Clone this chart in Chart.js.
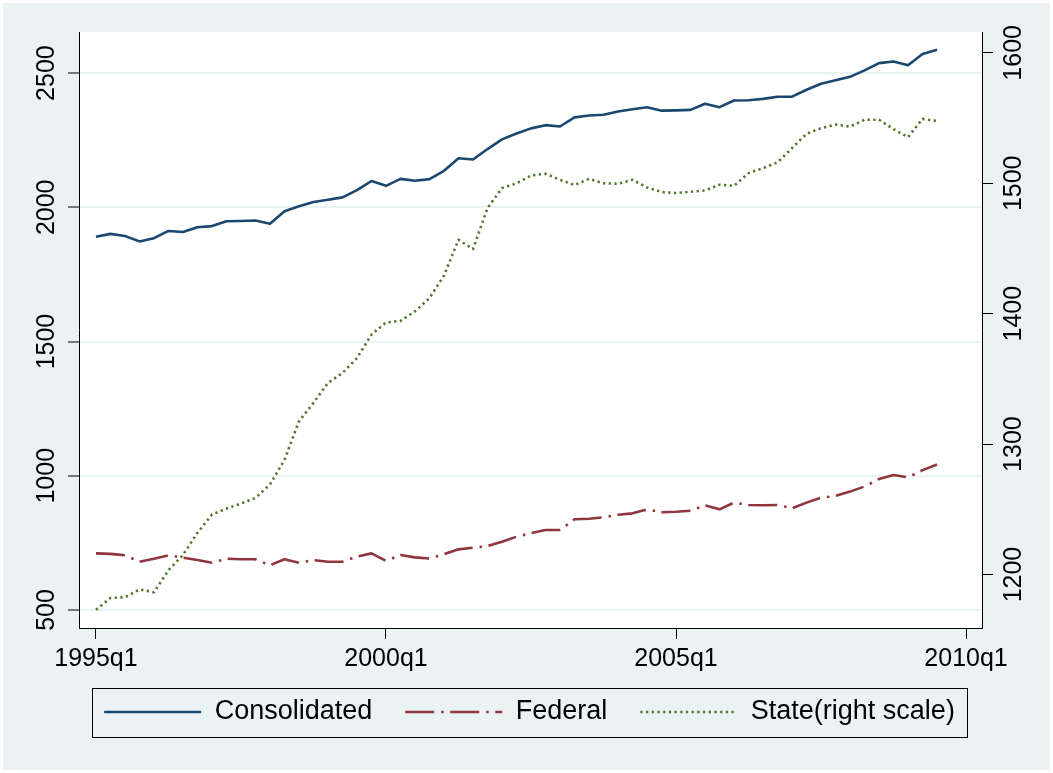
<!DOCTYPE html>
<html>
<head>
<meta charset="utf-8">
<script src="https://cdn.jsdelivr.net/npm/chart.js@4/dist/chart.umd.min.js"></script>
<style>
  html, body { margin: 0; padding: 0; background: #ffffff; }
  #c { display: block; }
</style>
</head>
<body>
<canvas id="c" width="1053" height="773" style="width:1053px;height:773px"></canvas>
<script>
// ---------------- data ----------------
const startYear = 1995;
const quarters = [];
for (let y = startYear; y <= 2009; y++) {
  for (let q = 1; q <= 4; q++) {
    if (quarters.length < 59) quarters.push(y + 'q' + q);
  }
}

const seriesNames = ['Consolidated', 'Federal', 'State(right scale)'];

const consolidated = [
  1890, 1901, 1893, 1873, 1885, 1912, 1908, 1926, 1930, 1948,
  1949, 1951, 1939, 1985, 2004, 2020, 2028, 2037, 2064, 2098,
  2080, 2106, 2099, 2105, 2136, 2183, 2178, 2217, 2253, 2275,
  2294, 2306, 2301, 2335, 2342, 2345, 2357, 2365, 2373, 2360,
  2361, 2363, 2386, 2373, 2398, 2399, 2404, 2412, 2412, 2438,
  2460, 2473, 2486, 2510, 2537, 2543, 2529, 2571, 2587
];

const federal = [
  711, 709, 704, 680, 691, 704, 695, 686, 676, 691,
  689, 689, 667, 689, 676, 686, 680, 680, 699, 711,
  683, 705, 696, 692, 708, 726, 732, 738, 754, 773,
  786, 798, 798, 838, 840, 845, 855, 860, 875, 864,
  866, 870, 890, 875, 900, 891, 890, 891, 879, 900,
  918, 925, 941, 960, 988, 1003, 994, 1021, 1042
];

const stateVals = [
  1173, 1182, 1182.6, 1188.5, 1186.4, 1203.3, 1215, 1232, 1246, 1250.6,
  1254.4, 1258.8, 1269, 1288, 1317.5, 1331.6, 1347, 1354.6, 1366, 1384,
  1393.3, 1394.5, 1401.8, 1412, 1429.3, 1456.7, 1449.6, 1481, 1496.3, 1500,
  1506, 1507.3, 1502.7, 1498.6, 1503.4, 1500, 1499.6, 1502.7, 1496.8, 1493.3,
  1492.5, 1493.5, 1494.5, 1498.9, 1498, 1507.8, 1511.6, 1516, 1527, 1538,
  1542.3, 1545, 1543.5, 1548.7, 1548.7, 1541.5, 1535.4, 1549.4, 1547.7
];

const xTickLabels = ['1995q1', '2000q1', '2005q1', '2010q1'];
const leftTicks = [500, 1000, 1500, 2000, 2500];
const rightTicks = [1200, 1300, 1400, 1500, 1600];

// ---------------- helpers ----------------
function quarterIndex(label) {
  const y = parseInt(label.slice(0, 4), 10);
  const q = parseInt(label.slice(5), 10);
  return (y - startYear) * 4 + (q - 1);
}
function toPoints(arr) {
  return arr.map((v, i) => ({ x: quarterIndex(quarters[i]), y: v }));
}

const BG = '#EAF2F3';
const FONT = "'Liberation Sans', Arial, Helvetica, sans-serif";
const colors = ['#1A476F', '#90353B', '#55752F'];
const dashes = [[], [29, 7, 2.5, 6.5], [2.3, 3.4]];

const bgPlugin = {
  id: 'bg',
  afterLayout(chart) {
    // let the bottom-axis tick labels extend past the axis box
    const xs = chart.scales.x;
    if (xs) xs.bottom = xs.top + 60;
  },
  beforeDraw(chart) {
    const ctx = chart.ctx;
    const a = chart.chartArea;
    ctx.save();
    ctx.fillStyle = '#ffffff';
    ctx.fillRect(0, 0, chart.width, chart.height);
    ctx.fillStyle = BG;
    ctx.fillRect(3, 3, chart.width - 6, chart.height - 6);
    ctx.fillStyle = '#ffffff';
    ctx.fillRect(a.left, a.top, a.right - a.left, a.bottom - a.top);
    ctx.restore();
  },
  afterDraw(chart) {
    const hb = chart.legend && chart.legend.legendHitBoxes;
    if (!hb || !hb.length) return;
    const first = hb[0], last = hb[hb.length - 1];
    const cy = first.top + first.height / 2;
    const ctx = chart.ctx;
    ctx.save();
    ctx.strokeStyle = '#000';
    ctx.lineWidth = 1;
    const l = Math.round(first.left - 12) + 0.5;
    const r = Math.round(last.left + last.width + 12) + 0.5;
    const t = Math.round(cy - 24) + 0.5;
    const b = Math.round(cy + 25) + 0.5;
    ctx.strokeRect(l, t, r - l, b - t);
    ctx.restore();
  }
};

Chart.defaults.font.family = FONT;
Chart.defaults.color = '#000';

const datasets = [
  { label: seriesNames[0], data: toPoints(consolidated), yAxisID: 'y',
    borderColor: colors[0], borderWidth: 2.6, borderDash: dashes[0] },
  { label: seriesNames[1], data: toPoints(federal), yAxisID: 'y',
    borderColor: colors[1], borderWidth: 2.6, borderDash: dashes[1] },
  { label: seriesNames[2], data: toPoints(stateVals), yAxisID: 'y1',
    borderColor: colors[2], borderWidth: 2.6, borderDash: dashes[2] }
].map(d => Object.assign(d, {
  pointRadius: 0, pointHoverRadius: 0, tension: 0, fill: false,
  backgroundColor: d.borderColor, borderCapStyle: 'butt', borderJoinStyle: 'round'
}));

new Chart(document.getElementById('c'), {
  type: 'line',
  data: { datasets },
  options: {
    responsive: false,
    animation: false,
    devicePixelRatio: 1,
    layout: { padding: { left: 6, right: 0, top: 32, bottom: 37.5 } },
    plugins: {
      tooltip: { enabled: false },
      title: { display: false },
      legend: {
        display: true,
        position: 'bottom',
        align: 'center',
        labels: {
          usePointStyle: true,
          pointStyle: 'line',
          pointStyleWidth: 97,
          boxHeight: 26,
          padding: 33,
          color: '#000',
          font: { size: 27, family: FONT },
          generateLabels(chart) {
            return chart.data.datasets.map((d, i) => ({
              text: d.label,
              fillStyle: d.borderColor,
              strokeStyle: d.borderColor,
              lineWidth: d.borderWidth,
              lineDash: d.borderDash,
              lineCap: 'butt',
              pointStyle: 'line',
              hidden: false,
              datasetIndex: i
            }));
          }
        }
      }
    },
    scales: {
      x: {
        type: 'linear',
        position: 'bottom',
        min: -1.17,
        max: 61.1,
        afterBuildTicks(scale) {
          scale.ticks = xTickLabels.map(l => ({ value: quarterIndex(l) }));
        },
        afterFit(scale) { scale.height = 37.5; },
        ticks: {
          autoSkip: false,
          maxRotation: 0,
          minRotation: 0,
          padding: 5,
          font: { size: 25 },
          color: '#000',
          callback(v) {
            const lab = xTickLabels.find(l => quarterIndex(l) === v);
            return lab || '';
          }
        },
        grid: {
          drawOnChartArea: false,
          drawTicks: true,
          tickLength: 11,
          tickColor: '#000',
          tickWidth: 1
        },
        border: { display: true, color: '#000', width: 1 }
      },
      y: {
        type: 'linear',
        position: 'left',
        min: 433,
        max: 2653,
        afterBuildTicks(scale) {
          scale.ticks = leftTicks.map(v => ({ value: v }));
        },
        afterFit(scale) { scale.width = 73; },
        ticks: {
          minRotation: 90,
          maxRotation: 90,
          crossAlign: 'center',
          padding: -7,
          font: { size: 25 },
          color: '#000',
          callback: v => String(v)
        },
        grid: {
          color: BG,
          lineWidth: 2,
          drawTicks: true,
          tickLength: 11,
          tickColor: '#000',
          tickWidth: 1
        },
        border: { display: true, color: '#000', width: 1 }
      },
      y1: {
        type: 'linear',
        position: 'right',
        min: 1159,
        max: 1616,
        afterBuildTicks(scale) {
          scale.ticks = rightTicks.map(v => ({ value: v }));
        },
        afterFit(scale) { scale.width = 71; },
        ticks: {
          minRotation: 90,
          maxRotation: 90,
          crossAlign: 'center',
          padding: -7,
          font: { size: 25 },
          color: '#000',
          callback: v => String(v)
        },
        grid: {
          drawOnChartArea: false,
          drawTicks: true,
          tickLength: 11,
          tickColor: '#000',
          tickWidth: 1
        },
        border: { display: true, color: '#000', width: 1 }
      }
    }
  },
  plugins: [bgPlugin]
});
</script>
</body>
</html>
